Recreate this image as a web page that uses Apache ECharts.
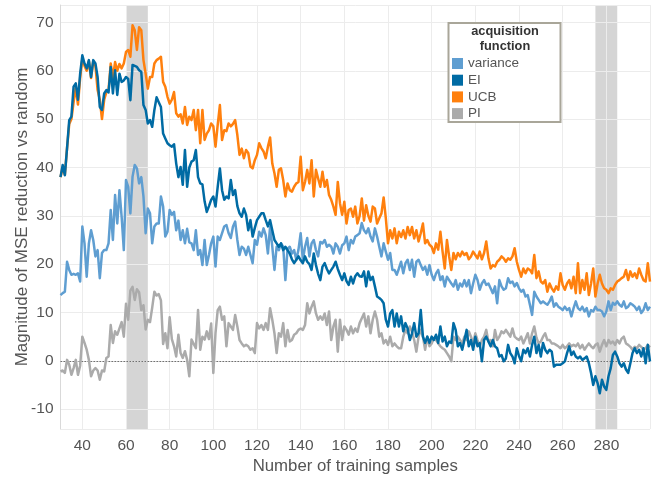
<!DOCTYPE html>
<html>
<head>
<meta charset="utf-8">
<script src="https://cdn.jsdelivr.net/npm/echarts@6/dist/echarts.min.js"></script>
<style>
html,body{margin:0;padding:0;background:#fff;}
#chart{width:656px;height:479px;}
</style>
</head>
<body>
<div id="chart"></div>
<script>
var firstSample = 30;
var xTicks = [40,60,80,100,120,140,160,180,200,220,240,260,280];
var yTicks = [-10,0,10,20,30,40,50,60,70];
var seriesNames = ['variance','EI','UCB','PI'];
var shadedRanges = [[60,70],[275,285]];

var varianceVals = [
13.6,14,14.3,20.5,18.8,17.8,18,17.8,18.1,16.4,
27.8,24.3,17.4,24.3,27,25,21.6,22.9,17.1,22.3,
22.9,22.9,24.3,31.2,25,34.3,28.4,35.3,29.8,22.9,
37.4,36,30.5,38.1,40.5,39.8,36.7,38,34,26.4,
31.5,30.5,24.3,27.8,28.4,28.4,34,31.9,25.7,26.7,
31.2,30.2,30.8,27,29,25,27,24.3,27.3,24.5,
24.3,22.9,27,21.9,22.9,19.8,25,19.8,21.9,24.3,
25.7,19.5,25.7,25,26.4,27.8,28.1,26.4,25.4,27.8,
28.8,25,21.9,23.6,23.2,21.9,23.6,21.9,20.2,25,
24,26.7,25.7,27.4,26,22.2,27.8,23.6,18.8,23.6,
22.9,24.3,23.6,16.7,23.2,23.6,22.2,22.9,20.9,23,
26.4,20.9,23.6,25.4,21.6,24.3,25,22.9,21.6,24.6,
24.3,25,23.6,24,23.6,22.2,24.3,23.6,22.2,23.9,
24.3,25.7,22.9,25,24.3,25.7,26,26.4,28.5,27,
26.4,27.4,25.7,24.7,27.4,25.7,23.6,21.6,24.3,22.6,
20.9,22.3,18.8,18.8,17.8,19.1,20.5,18.1,20.2,20.9,
18.8,20.9,17.4,20.5,20.9,19.8,18.8,19.5,17.8,19.8,
17.8,16.7,18.1,18.8,16.7,17.5,15.4,17.4,16.7,16,
15.4,16.7,14.7,16,15.4,16.7,15.4,16.7,14,16,
17.8,16.7,14.7,16,16.7,15.7,16,15,14,15.4,
11.9,16.7,15.4,14.7,15,17.1,16.1,16.4,15.4,16.1,
15,14.3,14.7,13.3,13.6,11.6,9.5,14.3,13.3,12.6,
11.9,12.3,11.9,11.6,12.3,13.3,11.2,11.9,11.2,10.9,
10.5,11.2,10.5,10.9,9.2,10.9,12.3,10.9,10.5,11.2,
10.2,10.9,9.2,10.5,10.2,11.2,10.5,10.5,10.2,9.2,
10.2,12.3,10.5,12,11.6,12.3,11.6,11.2,12.3,10.9,
11.2,11.9,11.6,11.2,10.5,11.2,9.9,10.5,11.9,10.5,
11.2];

var eiVals = [
38,40.5,38.4,44,49.8,50.5,56.7,57.4,54,59.4,
63.2,61.5,60.5,62.2,58.7,62.2,61.5,58.7,52.5,51.9,
55.3,56,55.5,60.8,55.3,60.1,55,59.4,57.7,58,
58.7,58.3,53.9,61.2,61,60.8,60.1,59.8,52.9,51.9,
49.1,49.8,48.4,51.9,54.5,53.5,52.5,47,46,45,
44.6,44.3,44.8,40.8,38,40.1,36.4,43.6,36,40,
41.2,41.5,43.6,38,36.7,36.5,33,30.8,32,33.3,
34,31.9,36,39.8,35.3,33.3,34,33.6,37.4,34.3,
35.3,32,30.5,29.8,31.5,30.2,27,29.1,25.7,27.5,
29.1,29.8,30.5,30.5,29.1,27.8,29.1,27,25,24.3,
23.6,24.3,22.9,23.6,22.9,22.2,21,20.2,20.9,21.6,
20.8,20.2,21.6,20.5,20,18.8,22.2,19.8,18,16.7,
19.5,20.2,19,18.1,18.8,19.5,20.5,19,17.8,16.7,
18.1,16.5,15.7,17.4,16,17.5,18.1,17.5,17.4,18.5,
15.4,18.5,16.7,17.4,15.4,13.3,13,12.6,11.9,8.5,
7.1,9.8,10.5,7.1,9.8,7.1,9.2,6.1,7.8,6.7,
4.3,5.7,7.8,5,5.7,10.5,5,3.7,5,3.7,
5,4.3,5.4,3.7,7.1,4,5,3,4,3.7,
7.8,6.4,3,3.7,2.3,4.3,6.4,3,4.3,2.3,
5,3,3.7,-0.1,4.3,5,4,3,4.3,3,
2.6,0.9,1.2,-0.1,0.5,3.3,1.6,0.9,-0.5,2.6,
1,-0.1,2.3,1.6,2.6,0.9,3.3,5,1.6,3.3,
0.9,3.7,2.3,1.6,2.3,1.9,-1.2,-0.8,-0.8,-0.8,
-0.5,-0.1,1.6,3,1.2,1.9,0.9,0.5,0.9,0.2,
0.5,0.9,-0.5,-2.5,-5,-3.2,-4.6,-6.7,-3.9,-5.3,
-6,-3.2,-1.5,1.2,1.9,0.9,-0.5,-1.2,-0.5,-1.8,
-2.5,-0.5,1.6,2.6,1.6,2.3,0.9,2.6,-0.5,3.3,
-0.1];

var ucbVals = [
38,40,38.5,44,49,50,53.5,56.5,53,58.5,
62.5,61,60,62,58.5,62,61,56,54,50,
54,55.5,56,61.5,58.5,61.8,60,61.4,60.5,61.5,
63.9,64.3,62.9,69.4,68.4,64.3,69,68.4,62.2,59.4,
56.3,58.7,58.7,61.5,62.2,62.5,62.9,57.7,56.7,54.6,
53.2,54,55.6,51.2,50.5,51,49.1,52.5,48.8,50.5,
49.8,51.9,47.7,51.9,45,51.9,45.7,47,47.7,49.1,
48.5,44.3,48.8,52.9,45.7,47.7,47.5,49.1,48.5,49,
49.8,46.7,42.6,43.9,41.9,43.6,43,40.2,39.8,41.5,
42.6,45,44,43.3,41.9,44.3,46.2,40.8,38.8,36,
39.5,39.8,37.4,34,36.7,35.3,35,36,36.7,37,
42.2,35.3,37,39.5,36.7,41.5,34,39.5,37.7,36,
39.1,36,37.4,34.3,33.3,31.9,30.2,37,32.6,30.2,
32.9,28.4,31.2,31.5,29.8,31.9,28.4,30,33.6,29,
32.2,30,28.8,31.9,31.5,28.4,29.5,30.5,33.8,29.5,
24.3,27,25.3,27.4,24.3,26.7,25.6,27,25.3,27.7,
26,27.7,25.3,27,24.7,26.4,28.4,24.3,25,24,
23.6,22.3,24.3,23,26.7,22.6,19.1,25,21.6,18.8,
22.3,21,22.3,21.6,22.6,21.9,22.3,21,21.6,22.6,
21.9,21.2,22.6,21,22.3,24.7,21.2,19.1,19.8,19.5,
20.5,20.9,21.6,21.2,20.5,21.2,20.9,21.6,23.3,20.5,
18.8,17.4,19.1,18.1,19.1,18.8,18.1,21.9,17.1,18.5,
16.4,16,16.7,14.3,16,15,14.3,15.4,14.7,18.1,
15.7,14.7,16,16.7,15,17.4,14,20.2,14,16.7,
14.7,18.1,13.6,16,19.1,13.3,16,17.8,16,15,
14.7,14,15,14.7,15.7,16.4,16.7,17.1,17.4,18.8,
16.7,18.5,17.4,18.1,17.1,19.1,17.8,16.7,16.4,20.2,
16.4];

var piVals = [
-2.2,-2,-2.5,0.2,-0.8,-2.9,-1.5,0.2,-2.9,-1,
5,3.7,2.3,0.2,-3.2,-2,-1.5,-2,-3.9,-2,
-2.2,0.6,0.9,7.4,3.7,6.1,5.4,6.7,8,5,
11.8,8.5,14.5,15.3,12.6,14.8,14.2,10.5,11.5,6.5,
8.5,8,11,14.3,13.5,13.8,12.5,3.5,5.7,2.6,
9,4.5,3,0.9,5.4,1.6,0.6,2,0.2,-3.2,
4.4,3.5,2.6,10.5,2.3,5,4.4,6.1,4.5,7.7,
-2.5,5.8,10.5,11.2,8.5,9.2,3,7.8,7.1,6.4,
9.5,7.1,4.3,3.6,3,3.3,3,2.3,2.6,1.6,
7.8,6.7,7.4,6.4,7.8,6.4,10.9,8.5,5.7,1.6,
5.7,5,7.8,3,6.4,4,4.3,5.4,5.7,6.4,
6.7,6.4,7.4,11.9,9.8,11.2,12.3,9.8,8.5,9.2,
8.5,9.8,7.4,10.2,4.3,7.1,8.5,1.9,8.5,4.3,
7.1,6.4,5.4,7.1,5.7,6.7,6,7.8,8.8,9.8,
7.1,9.2,5.7,8.5,10.2,8.5,5,5.7,3.6,4.3,
3.3,5,3,3.6,3,2.6,2.6,5,6.4,5.7,
7.1,6,4.3,1.9,5,6.4,5,2.3,5,3,
3.6,4.7,4.3,3.6,3,2.6,2.3,1.6,0.9,-0.1,
5,4.3,5,4.3,3.6,5,4.3,6.1,5,3.6,
5.7,4.3,3,4.3,5,6.4,4,4.3,3,6.4,
4.3,5,6.1,5.7,6.4,5.7,5,6.7,5,4.6,
4.3,5,3.6,4.6,5.7,3.6,5.7,7.1,4.8,3.6,
4,5,5.7,4.3,4.3,3.6,3.6,3.3,3,2.6,
3.3,2.6,3,3.6,3,3.3,3,3.6,2.6,3.3,
2.3,3,3.6,3,2.6,3.3,3.6,1.9,3.3,4.3,
3,4.3,3.6,4,3.3,4.3,3.6,4.6,5,3.6,
3.3,2.9,2.3,2.9,2.6,3.3,2.9,2.3,2.6,3.3,
2.8];

var colors = {variance:'#5F9ED1', EI:'#006BA4', UCB:'#FF800E', PI:'#ABABAB'};

function pairs(vals){
  return vals.map(function(v,i){ return [firstSample + i, v]; });
}

var font = 'Arial, "Liberation Sans", sans-serif';
var chart = echarts.init(document.getElementById('chart'), null, {renderer:'canvas'});

function lineSeries(name, vals){
  return {
    name: name, type: 'line', data: pairs(vals), showSymbol: false, symbol: 'none',
    lineStyle: {color: colors[name], width: 2.5, join: 'round'},
    itemStyle: {color: colors[name]}, z: 3, silent: true
  };
}

var option = {
  animation: false,
  backgroundColor: '#ffffff',
  grid: {left: 60.5, right: 6, top: 5, bottom: 50, containLabel: false, outerBoundsMode: 'none'},
  xAxis: {
    type: 'value', min: firstSample, max: firstSample + varianceVals.length - 1,
    minInterval: 20, maxInterval: 20, splitNumber: 14, z: 0,
    name: 'Number of training samples', nameLocation: 'middle', nameGap: 29,
    nameMoveOverlap: false,
    nameTextStyle: {fontSize: 16.8, color: '#555', fontFamily: font},
    axisLine: {show: true, lineStyle: {color: '#d9d9d9', width: 1}},
    axisTick: {show: false},
    axisLabel: {fontSize: 15.5, color: '#555', fontFamily: font, margin: 9,
      showMinLabel: false, showMaxLabel: false,
      formatter: function(v){ return xTicks.indexOf(v) >= 0 ? String(v) : ''; }},
    splitLine: {show: true, lineStyle: {color: '#ececec', width: 1}}
  },
  yAxis: {
    type: 'value', min: -14.1, max: 73.6, z: 0,
    minInterval: 10, maxInterval: 10, splitNumber: 9,
    name: 'Magnitude of MSE reduction vs random', nameLocation: 'middle', nameGap: 30,
    nameMoveOverlap: false,
    nameTextStyle: {fontSize: 17, color: '#555', fontFamily: font},
    axisLine: {show: true, lineStyle: {color: '#d9d9d9', width: 1}},
    axisTick: {show: false},
    axisLabel: {fontSize: 15.5, color: '#555', fontFamily: font, margin: 7,
      showMinLabel: false, showMaxLabel: false,
      formatter: function(v){ return yTicks.indexOf(v) >= 0 ? String(v) : ''; }},
    splitLine: {show: true, lineStyle: {color: '#ececec', width: 1}}
  },
  legend: {
    data: seriesNames, orient: 'vertical', left: 452, top: 56.5,
    itemWidth: 11, itemHeight: 11, itemGap: 2.7, icon: 'rect',
    selectedMode: false, padding: 0, z: 20,
    textStyle: {fontSize: 13.5, color: '#555', fontFamily: font, lineHeight: 14}
  },
  graphic: [
    {type: 'rect', z: 15, shape: {x: 448.5, y: 23, width: 112, height: 99},
      style: {fill: '#ffffff', stroke: '#a9a699', lineWidth: 2}},
    {type: 'text', z: 16, x: 505, y: 31, style: {text: 'acquisition', fill: '#333',
      font: 'bold 12.8px ' + font, textAlign: 'center', textVerticalAlign: 'middle'}},
    {type: 'text', z: 16, x: 505, y: 46, style: {text: 'function', fill: '#333',
      font: 'bold 12.8px ' + font, textAlign: 'center', textVerticalAlign: 'middle'}}
  ],
  series: [
    {
      name: 'bands', type: 'line', data: [], z: -1, silent: true,
      markArea: {silent: true, z: -1, itemStyle: {color: '#d5d5d5'},
        data: shadedRanges.map(function(r){ return [{xAxis: r[0]}, {xAxis: r[1]}]; })}
    },
    {
      name: 'zero', type: 'line', data: [], z: 1, silent: true,
      markLine: {silent: true, z: 1, symbol: ['none','none'], label: {show: false},
        lineStyle: {color: '#555', width: 0.8, type: [1.5, 1.5]},
        data: [{yAxis: 0}]}
    },
    lineSeries('PI', piVals),
    lineSeries('UCB', ucbVals),
    lineSeries('variance', varianceVals),
    lineSeries('EI', eiVals)
  ]
};
chart.setOption(option);
</script>
</body>
</html>
